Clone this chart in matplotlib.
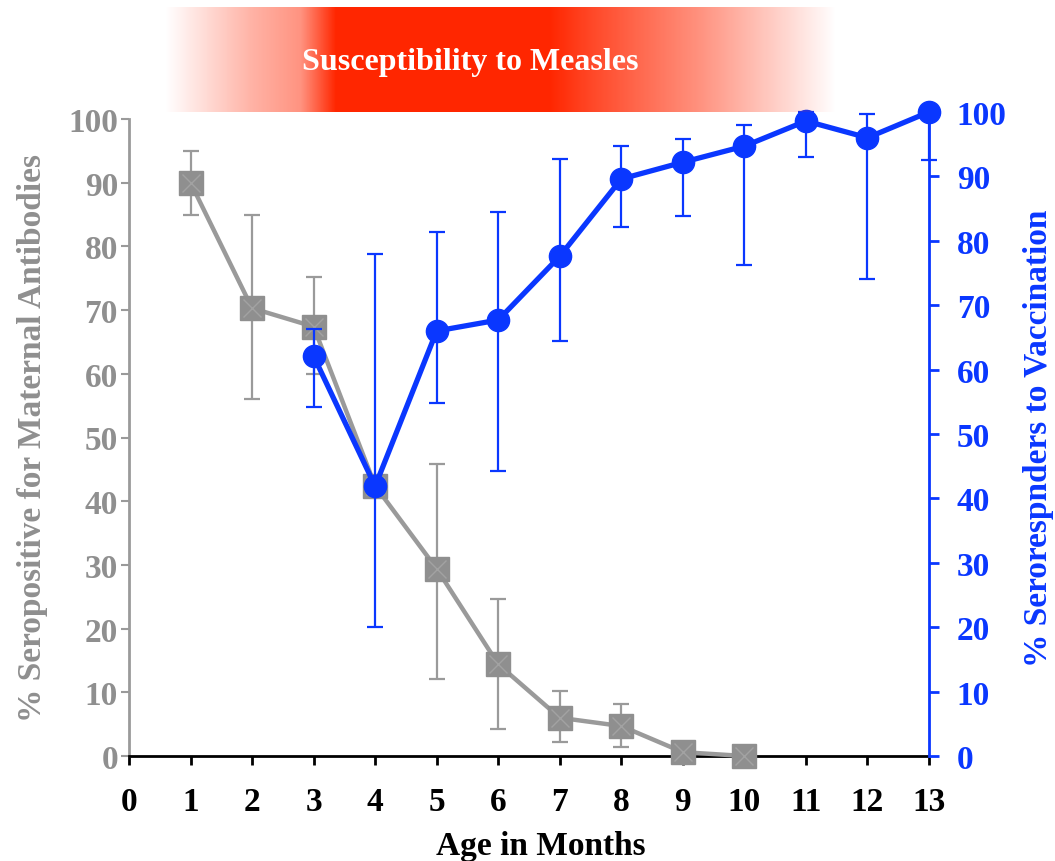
import matplotlib
matplotlib.use("Agg")
import matplotlib.pyplot as plt
import numpy as np

# maternal antibodies (left axis)
age_mat = [1, 2, 3, 4, 5, 6, 7, 8, 9, 10]
mat_pct = [90, 70.3, 67.4, 42.4, 29.4, 14.4, 6.0, 4.7, 0.6, 0.0]
mat_hi = [95, 85, 75.2, 43.5, 45.8, 24.6, 10.2, 8.2, 0.6, 0.0]
mat_lo = [85, 56, 60, 41.5, 12.1, 4.2, 2.2, 1.4, 0.6, 0.0]

# seroresponders to vaccination (right axis)
age_vac = [3, 4, 5, 6, 7, 8, 9, 10, 11, 12, 13]
vac_pct = [62.1, 41.9, 66.0, 67.7, 77.6, 89.6, 92.2, 94.7, 98.6, 96.0, 100.0]
vac_hi = [66.3, 78.0, 81.4, 84.5, 92.7, 94.7, 95.8, 98.0, 100.0, 99.7, 100.0]
vac_lo = [54.2, 20.0, 54.8, 44.3, 64.4, 82.1, 83.9, 76.2, 93.0, 74.0, 92.5]

xticks = list(range(0, 14))
yticks = list(range(0, 101, 10))

GRAY = "#8f8f8f"
GRAY_AX = "#9a9a9a"
BLUE = "#0a37ff"
SERIF = "Liberation Serif"

plt.rcParams['font.family'] = SERIF
plt.rcParams['font.weight'] = 'bold'

fig = plt.figure(figsize=(10.55, 8.62), dpi=100)
W, H = 1055, 862

ax = fig.add_axes([129 / W, 1 - 757 / H, 800 / W, 644 / H])
ax.set_xlim(0, 13)
ax.set_ylim(0, 100 * 644 / 637)

mat_pct = np.array(mat_pct)
err_m = [mat_pct - np.array(mat_lo), np.array(mat_hi) - mat_pct]
ax.errorbar(age_mat, mat_pct, yerr=err_m, fmt='none', ecolor=GRAY_AX,
            elinewidth=1.6, capsize=6, capthick=1.6, zorder=2, clip_on=False)
ax.plot(age_mat, mat_pct, color=GRAY_AX, lw=3.2, zorder=3, clip_on=False)
ax.plot(age_mat, mat_pct, ls='none', marker='s', ms=17, mfc=GRAY, mec=GRAY,
        zorder=4, clip_on=False)
ax.plot(age_mat, mat_pct, ls='none', marker='x', ms=13, mew=1.0,
        mec="#a2a2a2", zorder=5, clip_on=False)

ax.spines['top'].set_visible(False)
ax.spines['right'].set_visible(False)
ax.spines['left'].set_color(GRAY_AX)
ax.spines['left'].set_linewidth(2)
ax.spines['left'].set_bounds(0, 100)
ax.spines['bottom'].set_color('black')
ax.spines['bottom'].set_linewidth(2)
ax.set_xticks(xticks)
ax.set_yticks(yticks)
ax.tick_params(axis='x', direction='out', length=6.5, width=2, color='black',
               labelsize=24, pad=15)
ax.tick_params(axis='y', direction='out', length=6, width=1.5, color=GRAY_AX,
               labelcolor=GRAY, labelsize=24, pad=2)
for lab in ax.get_xticklabels() + ax.get_yticklabels():
    lab.set_fontweight('bold')

ax2 = ax.twinx()
ax2.set_ylim(0, 100)
vac_pct = np.array(vac_pct)
err_v = [vac_pct - np.array(vac_lo), np.array(vac_hi) - vac_pct]
ax2.errorbar(age_vac, vac_pct, yerr=err_v, fmt='none', ecolor=BLUE,
             elinewidth=1.6, capsize=6, capthick=1.6, zorder=2, clip_on=False)
ax2.plot(age_vac, vac_pct, color=BLUE, lw=3.8, marker='o', ms=16,
         mfc=BLUE, mec=BLUE, zorder=4, clip_on=False)
for s in ['top', 'left', 'bottom']:
    ax2.spines[s].set_visible(False)
ax2.spines['right'].set_color(BLUE)
ax2.spines['right'].set_linewidth(2)
ax2.set_yticks(yticks)
ax2.tick_params(axis='y', direction='out', length=7, width=2, color=BLUE,
                labelcolor=BLUE, labelsize=24, pad=13)
for lab in ax2.get_yticklabels():
    lab.set_fontweight('bold')

fig.text(541 / W, 1 - 847 / H, "Age in Months", ha='center', va='center',
         fontsize=24, fontweight='bold', color='black')
fig.text(33 / W, 1 - 438 / H, "% Seropositive for Maternal Antibodies",
         rotation=90, ha='center', va='center', fontsize=24,
         fontweight='bold', color=GRAY)
fig.text(1038 / W, 1 - 438 / H, "% Serorespnders to Vaccination",
         rotation=90, ha='center', va='center', fontsize=24,
         fontweight='bold', color=BLUE)

# gradient banner
bx = fig.add_axes([165 / W, 1 - 113 / H, 670 / W, 105 / H])
stops_x = [0, 85, 135, 170, 385, 425, 535, 670]
stops_a = [0.0, 0.35, 0.5, 1.0, 1.0, 0.85, 0.5, 0.0]
xs = np.arange(670)
alpha = np.interp(xs, stops_x, stops_a)
img = np.ones((1, 670, 4))
img[0, :, 0] = 1.0
img[0, :, 1] = 0.15
img[0, :, 2] = 0.0
img[0, :, 3] = alpha
bx.imshow(img, aspect='auto', extent=[0, 1, 0, 1], interpolation='bilinear')
bx.set_xlim(0, 1)
bx.set_ylim(0, 1)
bx.axis('off')
bx.text((470 - 165) / 670, 0.48, "Susceptibility to Measles", color='white',
        fontsize=23, fontweight='bold', ha='center', va='center')

fig.savefig("out.png", dpi=100)
